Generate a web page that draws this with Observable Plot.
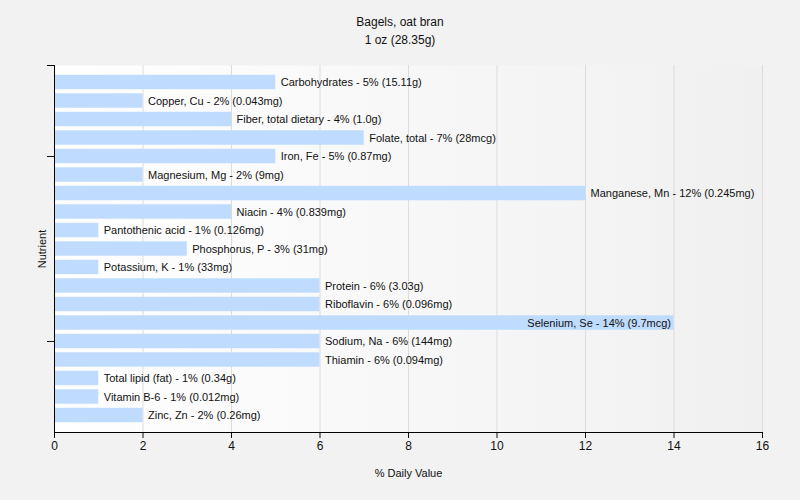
<!DOCTYPE html>
<html>
<head>
<meta charset="utf-8">
<script src="https://cdn.jsdelivr.net/npm/d3@7"></script>
<script src="https://cdn.jsdelivr.net/npm/@observablehq/plot@0.6"></script>
<style>
  html, body { margin: 0; padding: 0; background: #f2f2f2; }
  body { width: 800px; height: 500px; overflow: hidden; font-family: "Liberation Sans", Arial, sans-serif; }
  #head { height: 50px; text-align: center; font-size: 12px; color: #111; }
  #head div { line-height: 18px; }
  #t1 { padding-top: 13px; }
</style>
</head>
<body>
<div id="head"><div id="t1">Bagels, oat bran</div><div>1 oz (28.35g)</div></div>
<div id="chart"></div>
<script>
const nutrients = ["Carbohydrates","Copper, Cu","Fiber, total dietary","Folate, total","Iron, Fe","Magnesium, Mg","Manganese, Mn","Niacin","Pantothenic acid","Phosphorus, P","Potassium, K","Protein","Riboflavin","Selenium, Se","Sodium, Na","Thiamin","Total lipid (fat)","Vitamin B-6","Zinc, Zn"];
const dailyValues = [5,2,4,7,5,2,12,4,1,3,1,6,6,14,6,6,1,1,2];
const amounts = ["15.11g","0.043mg","1.0g","28mcg","0.87mg","9mg","0.245mg","0.839mg","0.126mg","31mg","33mg","3.03g","0.096mg","9.7mcg","144mg","0.094mg","0.34g","0.012mg","0.26mg"];
const xTicks = [0,2,4,6,8,10,12,14,16];
const yTicks = ["Iron, Fe","Sodium, Na"];

const data = nutrients.map((n, i) => ({
  name: n, value: dailyValues[i],
  label: `${n} - ${dailyValues[i]}% (${amounts[i]})`
}));
const inside = d => d.value >= 13;

const W = 800, H = 450, mT = 15, mB = 68, mL = 54, mR = 38;

const chart = Plot.plot({
  width: W, height: H,
  marginTop: mT, marginBottom: mB, marginLeft: mL, marginRight: mR,
  style: {fontFamily: "Liberation Sans, Arial, sans-serif", fontSize: "11px", background: "transparent", color: "#111"},
  x: {domain: [0, 16], ticks: xTicks, label: null},
  y: {domain: nutrients, paddingInner: 0.22, paddingOuter: 0.53, round: false, label: null},
  marks: [
    Plot.frame({fill: "url(#bggrad)", stroke: null}),
    Plot.gridX(xTicks, {stroke: "#dcdcdc", strokeOpacity: 1}),
    Plot.barX(data, {x: "value", y: "name", fill: "#bfdbfd"}),
    Plot.text(data.filter(d => !inside(d)), {x: "value", y: "name", text: "label", textAnchor: "start", dx: 5, fill: "#111"}),
    Plot.text(data.filter(inside), {x: "value", y: "name", text: "label", textAnchor: "end", dx: -3, fill: "#111"}),
    Plot.axisX({ticks: xTicks, tickSize: 6, fontSize: 12, tickPadding: 3, label: null}),
    Plot.frame({anchor: "left", stroke: "#000"}),
    Plot.frame({anchor: "bottom", stroke: "#000"}),
    Plot.axisY({ticks: yTicks, tickFormat: () => "", tickSize: 7, label: null}),
    Plot.text(["% Daily Value"], {frameAnchor: "bottom", dy: 44, fontSize: 11}),
    Plot.text(["Nutrient"], {frameAnchor: "left", textAnchor: "middle", dx: -12, rotate: -90, fontSize: 11})
  ]
});

// background gradient + top tick on y axis
const svgNS = "http://www.w3.org/2000/svg";
const defs = document.createElementNS(svgNS, "defs");
defs.innerHTML = '<linearGradient id="bggrad" x1="0" x2="1" y1="0" y2="0"><stop offset="0" stop-color="#ffffff"/><stop offset="1" stop-color="#f0f0f0"/></linearGradient>';
chart.insertBefore(defs, chart.firstChild);
const topTick = document.createElementNS(svgNS, "line");
topTick.setAttribute("x1", mL - 7); topTick.setAttribute("x2", mL);
topTick.setAttribute("y1", mT + 0.5); topTick.setAttribute("y2", mT + 0.5);
topTick.setAttribute("stroke", "#000");
chart.appendChild(topTick);
document.getElementById("chart").appendChild(chart);
</script>
</body>
</html>
